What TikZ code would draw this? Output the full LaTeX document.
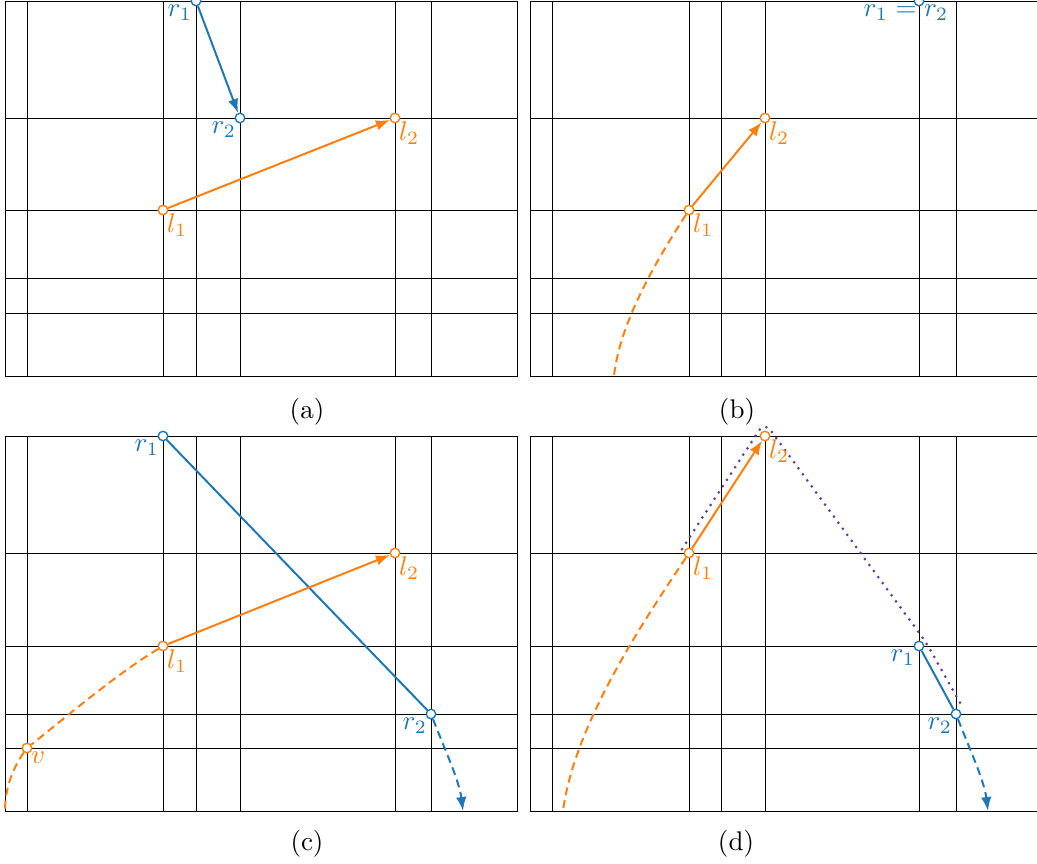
\documentclass[tikz,border=0pt]{standalone}
\usetikzlibrary{arrows.meta}
\definecolor{tblue}{RGB}{31,119,180}
\definecolor{torange}{RGB}{255,127,14}
\definecolor{tpurple}{RGB}{94,60,153}
\begin{document}
\begin{tikzpicture}[x=1pt,y=-1pt,
  gridline/.style={black,line width=1pt},
  pt/.style={circle,draw,fill=white,minimum size=9.5pt,inner sep=0pt,line width=1.4pt},
  bpt/.style={pt,draw=tblue},
  opt/.style={pt,draw=torange},
  txt/.style={scale=2.7},
  rlab/.style={txt,text=tblue,anchor=north east,inner sep=1.3pt},
  llab/.style={txt,text=torange,anchor=north west,inner sep=1.3pt},
  tipa/.style={-{Latex[length=14pt,width=10.5pt]}},
  conn/.style={line width=2pt,tipa},
  seg/.style={line width=2pt},
  dsh/.style={line width=2pt,dash pattern=on 8pt off 5pt},
  hull/.style={tpurple,line width=3pt,line cap=round,dash pattern=on 0pt off 7.5pt},
  capt/.style={txt,anchor=base,inner sep=0pt}]
\useasboundingbox (0,0) rectangle (1037,863);

% ---------- grids ----------
% (a)
\draw[gridline] (5,1) rectangle (517,376);
\foreach \x in {27,163,196,240,395,431} \draw[gridline] (\x,1) -- (\x,376);
\foreach \y in {118,210,278,313} \draw[gridline] (5,\y) -- (517,\y);
% (b)
\draw[gridline] (1037,1) -- (530,1) -- (530,376) -- (1037,376);
\foreach \x in {552,689,721,765,919,956} \draw[gridline] (\x,1) -- (\x,376);
\foreach \y in {118,210,278,313} \draw[gridline] (530,\y) -- (1037,\y);
% (c)
\draw[gridline] (5,436) rectangle (517,811);
\foreach \x in {27,163,196,240,395,431} \draw[gridline] (\x,436) -- (\x,811);
\foreach \y in {553,646,714,748} \draw[gridline] (5,\y) -- (517,\y);
% (d)
\draw[gridline] (1037,436) -- (530,436) -- (530,811) -- (1037,811);
\foreach \x in {552,689,721,765,919,956} \draw[gridline] (\x,436) -- (\x,811);
\foreach \y in {553,646,714,748} \draw[gridline] (530,\y) -- (1037,\y);

% hull in (d)
\draw[hull,rounded corners=10pt] (682,549) -- (764.5,422) -- (925.5,641.5) -- (963,708);

% ---------- panel (a) ----------
\node[bpt] (a-r1) at (196,1) {};
\node[bpt] (a-r2) at (240,118) {};
\node[opt] (a-l1) at (163,210) {};
\node[opt] (a-l2) at (395,118) {};
\draw[tblue,conn] (a-r1) -- (a-r2);
\draw[torange,conn] (a-l1) -- (a-l2);
\node[rlab] (a-r1t) at (a-r1.center) {$r_1$};
\node[rlab] (a-r2t) at (a-r2.center) {$r_2$};
\node[llab] (a-l1t) at (a-l1.center) {$l_1$};
\node[llab] (a-l2t) at (a-l2.center) {$l_2$};
\node[capt] (capa) at (307,418) {(a)};

% ---------- panel (b) ----------
\node[opt] (b-l1) at (689,210) {};
\node[opt] (b-l2) at (765,118) {};
\node[bpt] (b-r) at (919,1) {};
\coordinate (b-e) at (614,376);
\draw[torange,conn] (b-l1) -- (b-l2);
\draw[torange,dsh] (b-l1) .. controls (660,255) and (620,320) .. (b-e);
\node[txt,text=tblue,anchor=north,inner sep=1.3pt] (b-rt) at (906,1) {$r_1 = r_2$};
\node[llab] (b-l1t) at (b-l1.center) {$l_1$};
\node[llab] (b-l2t) at (b-l2.center) {$l_2$};
\node[capt] (capb) at (737,418) {(b)};

% ---------- panel (c) ----------
\node[bpt] (c-r1) at (163,436) {};
\node[bpt] (c-r2) at (431,714) {};
\node[opt] (c-l1) at (163,646) {};
\node[opt] (c-l2) at (395,553) {};
\node[opt] (c-v) at (27,748) {};
\coordinate (c-e) at (5,811);
\coordinate (c-f) at (463,811);
\draw[tblue,seg] (c-r1) -- (c-r2);
\draw[torange,conn] (c-l1) -- (c-l2);
\draw[torange,dsh] (c-l1) .. controls (115,675) and (65,718) .. (c-v);
\draw[torange,dsh] (c-v) .. controls (15,765) and (5,785) .. (c-e);
\draw[tblue,dsh,tipa] (c-r2) .. controls (445,750) and (459,780) .. (c-f);
\node[rlab] (c-r1t) at (c-r1.center) {$r_1$};
\node[rlab] (c-r2t) at (c-r2.center) {$r_2$};
\node[llab] (c-l1t) at (c-l1.center) {$l_1$};
\node[llab] (c-l2t) at (c-l2.center) {$l_2$};
\node[llab] (c-vt) at (c-v.center) {$v$};
\node[capt] (capc) at (307,850) {(c)};

% ---------- panel (d) ----------
\node[opt] (d-l1) at (689,553) {};
\node[opt] (d-l2) at (765,436) {};
\node[bpt] (d-r1) at (919,646) {};
\node[bpt] (d-r2) at (956,714) {};
\coordinate (d-e) at (563,811);
\coordinate (d-f) at (988,811);
\draw[torange,conn] (d-l1) -- (d-l2);
\draw[tblue,seg] (d-r1) -- (d-r2);
\draw[torange,dsh] (d-l1) .. controls (650,612) and (575,720) .. (d-e);
\draw[tblue,dsh,tipa] (d-r2) .. controls (970,750) and (984,780) .. (d-f);
\node[rlab] (d-r1t) at (d-r1.center) {$r_1$};
\node[rlab] (d-r2t) at (d-r2.center) {$r_2$};
\node[llab] (d-l1t) at (d-l1.center) {$l_1$};
\node[llab] (d-l2t) at (d-l2.center) {$l_2$};
\node[capt] (capd) at (736,850) {(d)};
\end{tikzpicture}
\end{document}
